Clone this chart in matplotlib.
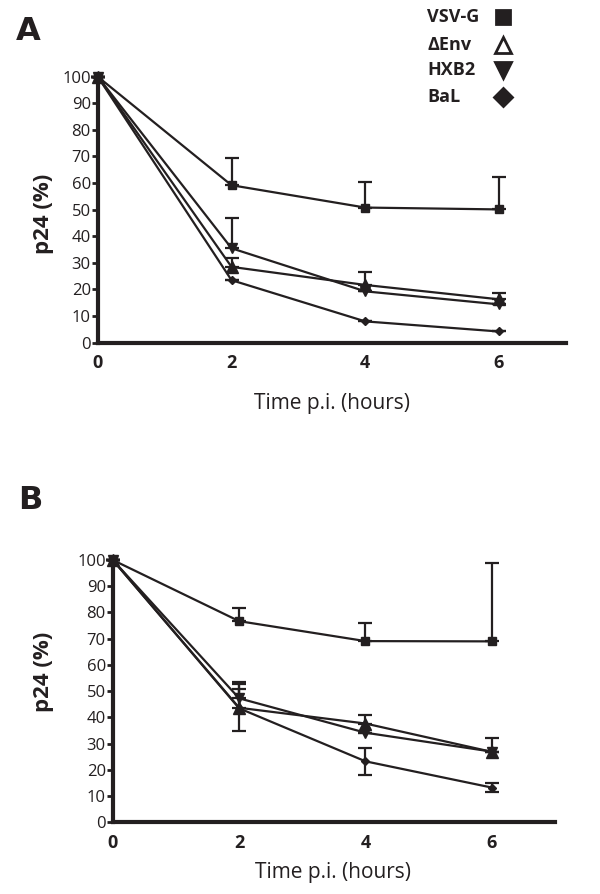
import matplotlib.pyplot as plt
import numpy as np

plt.rcParams['font.family'] = ['Open Sans', 'DejaVu Sans']

# time points (hours p.i.)
time = [0, 2, 4, 6]

# panel A - p24 (%)
a_vsvg = [100, 59.2, 50.8, 50.1]
a_vsvg_up = [0, 10.3, 9.7, 12.3]
a_denv = [100, 28.5, 21.7, 16.3]
a_denv_up = [0, 3.2, 4.8, 2.3]
a_hxb2 = [100, 35.5, 19.3, 14.4]
a_hxb2_up = [0, 11.4, 0, 0]
a_bal = [100, 23.5, 8.0, 4.2]
a_bal_up = [0, 0, 0, 0]

# panel B - p24 (%)
b_vsvg = [100, 76.7, 69.1, 69.0]
b_vsvg_up = [0, 5.1, 6.9, 29.8]
b_denv = [100, 43.7, 37.7, 26.9]
b_denv_up = [0, 9.0, 3.1, 5.3]
b_denv_lo = [0, 9.0, 0, 0]
b_hxb2 = [100, 47.3, 34.2, 27.0]
b_hxb2_up = [0, 6.3, 0, 0]
b_bal = [100, 43.5, 23.3, 13.3]
b_bal_up = [0, 7.2, 5.2, 1.8]
b_bal_lo = [0, 0, 5.2, 1.8]

labels = ['VSV-G', '\u0394Env', 'HXB2', 'BaL']
ink = '#231f20'

styles = {
    'VSV-G': dict(marker='s', ms=6),
    '\u0394Env': dict(marker='^', ms=9),
    'HXB2': dict(marker='v', ms=7),
    'BaL': dict(marker='D', ms=4.5),
}

fig = plt.figure(figsize=(6, 8.94), dpi=100)
axA = fig.add_axes([0.163, 0.6167, 0.780, 0.2975])
axB = fig.add_axes([0.188, 0.080, 0.737, 0.2936])

def draw(ax, series):
    for name, y, up, lo in series:
        st = styles[name]
        ax.errorbar(time, y, yerr=[lo, up], color=ink, lw=1.6,
                    marker=st['marker'], ms=st['ms'], mfc=ink, mec=ink,
                    capsize=5, capthick=1.6, elinewidth=1.6, clip_on=False, zorder=3)
    ax.set_xlim(0, 7)
    ax.set_ylim(0, 100)
    ax.set_yticks(np.arange(0, 101, 10))
    ax.set_xticks([0, 2, 4, 6])
    for s in ['top', 'right']:
        ax.spines[s].set_visible(False)
    for s in ['left', 'bottom']:
        ax.spines[s].set_linewidth(3)
        ax.spines[s].set_color(ink)
    ax.tick_params(axis='y', direction='out', length=4, width=2, color=ink,
                   labelsize=12, labelcolor=ink, pad=1)
    ax.tick_params(axis='x', length=0, labelsize=13, labelcolor=ink, pad=8)
    for t in ax.get_xticklabels():
        t.set_fontweight('bold')

zero = [0, 0, 0, 0]
draw(axA, [('VSV-G', a_vsvg, a_vsvg_up, zero),
           ('\u0394Env', a_denv, a_denv_up, zero),
           ('HXB2', a_hxb2, a_hxb2_up, zero),
           ('BaL', a_bal, a_bal_up, zero)])
draw(axB, [('VSV-G', b_vsvg, b_vsvg_up, zero),
           ('\u0394Env', b_denv, b_denv_up, b_denv_lo),
           ('HXB2', b_hxb2, b_hxb2_up, zero),
           ('BaL', b_bal, b_bal_up, b_bal_lo)])

# axis titles
fig.text(0.553, 0.5492, 'Time p.i. (hours)', fontsize=15, color=ink, ha='center', va='center')
fig.text(0.555, 0.0246, 'Time p.i. (hours)', fontsize=15, color=ink, ha='center', va='center')
fig.text(0.0717, 0.7606, 'p24 (%)', fontsize=16, fontweight='bold', color=ink,
         rotation=90, ha='center', va='center')
fig.text(0.0717, 0.2483, 'p24 (%)', fontsize=16, fontweight='bold', color=ink,
         rotation=90, ha='center', va='center')

fig.text(0.027, 0.9653, 'A', fontsize=23, fontweight='bold', color=ink,
         family=['Liberation Sans Narrow', 'DejaVu Sans'], ha='left', va='center')
fig.text(0.030, 0.4396, 'B', fontsize=23, fontweight='bold', color=ink,
         family=['Liberation Sans Narrow', 'DejaVu Sans'], ha='left', va='center')

# legend drawn at the top right
leg_y = [0.981, 0.9497, 0.9217, 0.8915]
leg_marker = {'VSV-G': ('s', 10, ink), '\u0394Env': ('^', 11, 'white'),
              'HXB2': ('v', 11, ink), 'BaL': ('D', 9, ink)}
for lab, yy in zip(labels, leg_y):
    fig.text(0.712, yy, lab, fontsize=13, fontweight='bold', color=ink, va='center')
    m, s, fc = leg_marker[lab]
    fig.lines.append(plt.Line2D([0.838], [yy], transform=fig.transFigure, marker=m,
                                ms=s, mfc=fc, mec=ink, mew=2, ls='none'))

fig.savefig('out.png', dpi=100)
